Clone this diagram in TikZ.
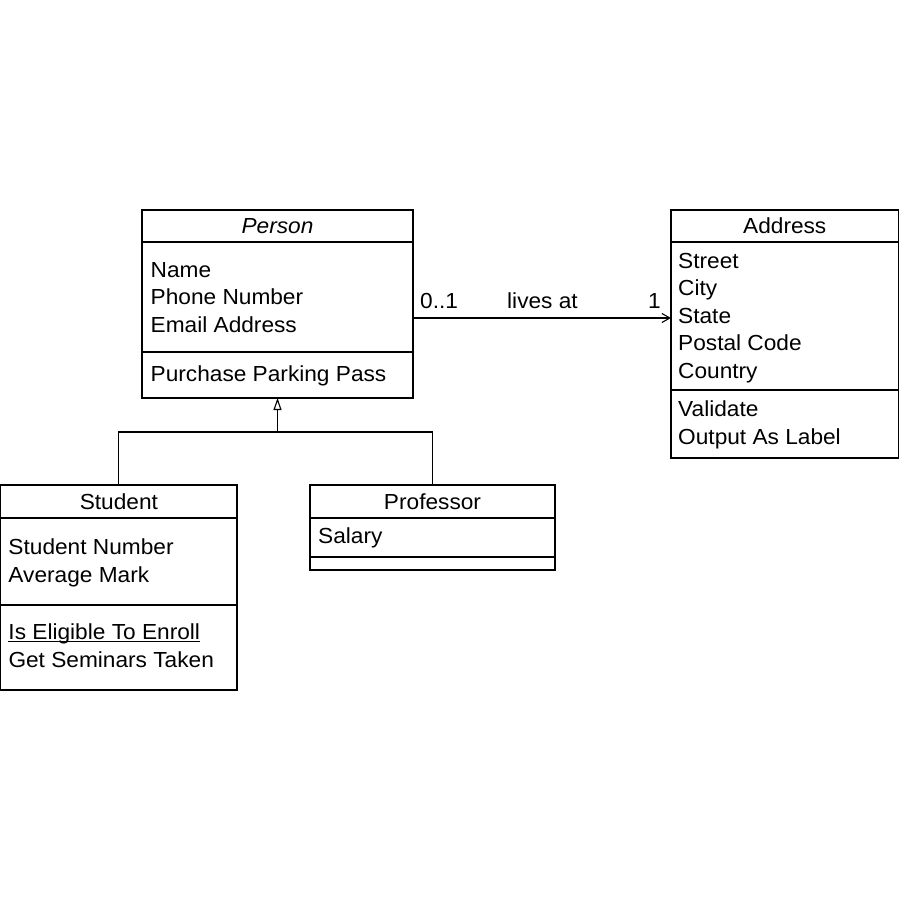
\documentclass[tikz,border=0pt]{standalone}
\usepackage{fontspec}
\setmainfont{Liberation Sans}[FakeStretch=1.04]
\usetikzlibrary{arrows.meta}
\usetikzlibrary{positioning}

\newcommand{\staticop}[1]{\underline{\smash{#1}}}

\begin{document}
\begin{tikzpicture}[x=1pt,y=-1pt,
			every node/.style={font=\fontsize{21.8}{27.5}\selectfont},
			part/.style={draw,line width=1.1pt,anchor=north west,inner sep=0pt,outer sep=0pt},
			entry/.style={anchor=base west,align=left,inner sep=0pt},
			link/.style={line width=1.1pt}]
			\useasboundingbox (0,0) rectangle (900,899);
			
			% Person (entries placed by the baseline of their last line)
			\node[part,minimum width=271pt,minimum height=32pt] (person-t) at (142,210) {\textit{Person}};
			\node[part,minimum width=271pt,minimum height=110pt,below=0pt of person-t] (person-a) {};
			\node[part,minimum width=271pt,minimum height=46pt,below=0pt of person-a] (person-o) {};
			\node[entry] (person-attr) at ([shift={(8.5,90)}]person-a.north west) {Name\\Phone Number\\Email Address};
			\node[entry] (person-op) at ([shift={(8.5,29)}]person-o.north west) {Purchase Parking Pass};
			
			% Address
			\node[part,minimum width=227.5pt,minimum height=32pt] (address-t) at (671,210) {Address};
			\node[part,minimum width=227.5pt,minimum height=148pt,below=0pt of address-t] (address-a) {};
			\node[part,minimum width=227.5pt,minimum height=68pt,below=0pt of address-a] (address-o) {};
			\node[entry] (address-attr) at ([shift={(7,136)}]address-a.north west) {Street\\City\\State\\Postal Code\\Country};
			\node[entry] (address-op) at ([shift={(7,54)}]address-o.north west) {Validate\\Output As Label};
			
			% Student
			\node[part,minimum width=236.2pt,minimum height=33pt] (student-t) at (0.8,485) {Student};
			\node[part,minimum width=236.2pt,minimum height=87pt,below=0pt of student-t] (student-a) {};
			\node[part,minimum width=236.2pt,minimum height=85pt,below=0pt of student-a] (student-o) {};
			\node[entry] (student-attr) at ([shift={(7.5,64)}]student-a.north west) {Student Number\\Average Mark};
			\node[entry] (student-op) at ([shift={(7.5,62)}]student-o.north west) {\staticop{Is Eligible To Enroll}\\Get Seminars Taken};
			
			% Professor
			\node[part,minimum width=245pt,minimum height=33pt] (prof-t) at (310,485) {Professor};
			\node[part,minimum width=245pt,minimum height=39pt,below=0pt of prof-t] (prof-a) {};
			\node[part,minimum width=245pt,minimum height=13pt,below=0pt of prof-a] (prof-o) {};
			\node[entry] (prof-attr) at ([shift={(8,25)}]prof-a.north west) {Salary};
			
			% lives at
			\draw[link,-{Straight Barb[length=8pt,width=9pt]}] ([yshift=-21pt]person-a.east) coordinate (lv) -- (lv -| address-a.west);
			\node[anchor=base west,inner sep=0pt] (mult-p) at (420,308) {0..1};
			\node[anchor=base west,inner sep=0pt] (role) at (507,308) {lives at};
			\node[anchor=base west,inner sep=0pt] (mult-a) at (648,308) {1};
			
			% generalization
			\coordinate (gen) at (277.5,432);
			\draw[link,-{Triangle[open,length=12pt,width=8pt]}] (gen) -- (person-o.south);
			\draw[link] (student-t.north) |- (gen) -| (prof-t.north);
		\end{tikzpicture}
\end{document}
